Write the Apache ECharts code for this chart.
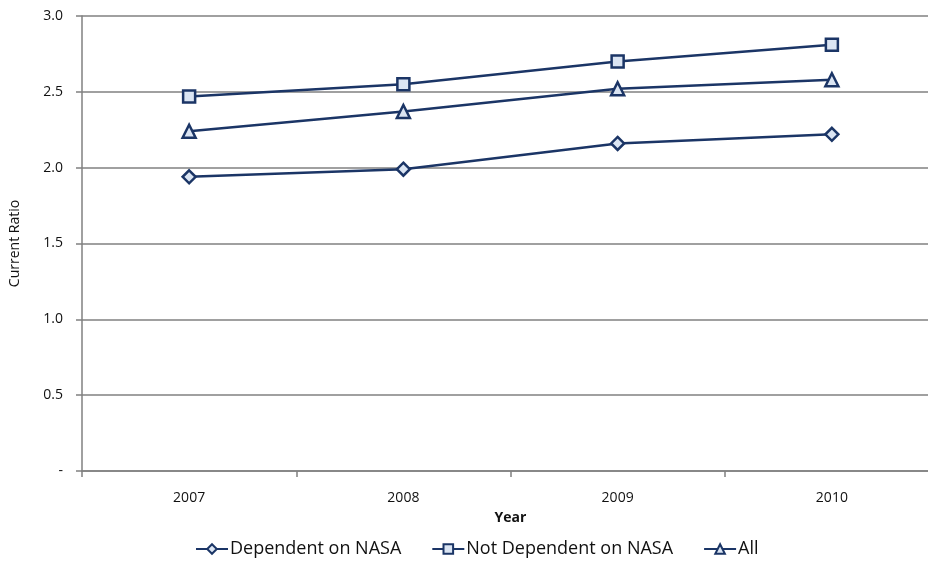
<!DOCTYPE html>
<html>
<head>
<meta charset="utf-8">
<script src="https://cdn.jsdelivr.net/npm/echarts@6/dist/echarts.min.js"></script>
<style>
  html, body { margin: 0; padding: 0; background: #fff; overflow: hidden; width: 928px; height: 563px; }
  #chart { width: 945px; height: 563px; }
</style>
</head>
<body>
<div id="chart"></div>
<script>
  var years = ['2007', '2008', '2009', '2010'];
  var dependent = [1.94, 1.99, 2.16, 2.22];
  var notDependent = [2.47, 2.55, 2.70, 2.81];
  var all = [2.24, 2.37, 2.52, 2.58];

  var navy = '#1b3566';
  var fill = '#dbe5f3';
  var font = 'Open Sans';

  function makeSeries(name, data, symbol, size) {
    return {
      name: name,
      type: 'line',
      data: data,
      symbol: symbol,
      symbolSize: size,
      showAllSymbol: true,
      lineStyle: { color: navy, width: 2.5 },
      itemStyle: { color: fill, borderColor: navy, borderWidth: 2.5 }
    };
  }

  // the plot runs a little past the right edge of the picture, so the chart is wider than the window
  var myChart = echarts.init(document.getElementById('chart'));
  var option = {
    animation: false,
    textStyle: { fontFamily: font },
    grid: { left: 81, right: 6, top: 16, bottom: 92 },
    legend: {
      bottom: 0,
      left: 190,
      itemGap: 30,
      itemWidth: 32,
      itemHeight: 12,
      textStyle: { fontSize: 18, color: '#111', fontFamily: font, padding: [0, 0, 0, -3] },
      data: ['Dependent on NASA', 'Not Dependent on NASA', 'All']
    },
    xAxis: {
      type: 'category',
      data: years,
      boundaryGap: true,
      name: 'Year',
      nameLocation: 'middle',
      nameGap: 40,
      nameTextStyle: { fontSize: 14, fontWeight: 'bold', color: '#111' },
      axisLine: { lineStyle: { color: '#808080', width: 1.5 } },
      axisTick: { show: true, length: 6, lineStyle: { color: '#808080', width: 1.5 } },
      axisLabel: { fontSize: 14, color: '#111', margin: 20 }
    },
    yAxis: {
      type: 'value',
      min: 0,
      max: 3,
      interval: 0.5,
      name: 'Current Ratio',
      nameLocation: 'middle',
      nameGap: 60,
      nameRotate: 90,
      nameTextStyle: { fontSize: 14, color: '#111' },
      axisLine: { show: true, lineStyle: { color: '#808080', width: 1.5 } },
      axisTick: { show: true, length: 6, lineStyle: { color: '#808080', width: 1.5 } },
      splitLine: { lineStyle: { color: '#808080', width: 1.5 } },
      axisLabel: {
        fontSize: 14, color: '#111', margin: 19,
        formatter: function (v) { return v === 0 ? '-' : v.toFixed(1); }
      }
    },
    series: [
      makeSeries('Dependent on NASA', dependent, 'diamond', 13),
      makeSeries('Not Dependent on NASA', notDependent, 'rect', 12),
      makeSeries('All', all, 'triangle', 13)
    ]
  };
  myChart.setOption(option);
</script>
</body>
</html>
